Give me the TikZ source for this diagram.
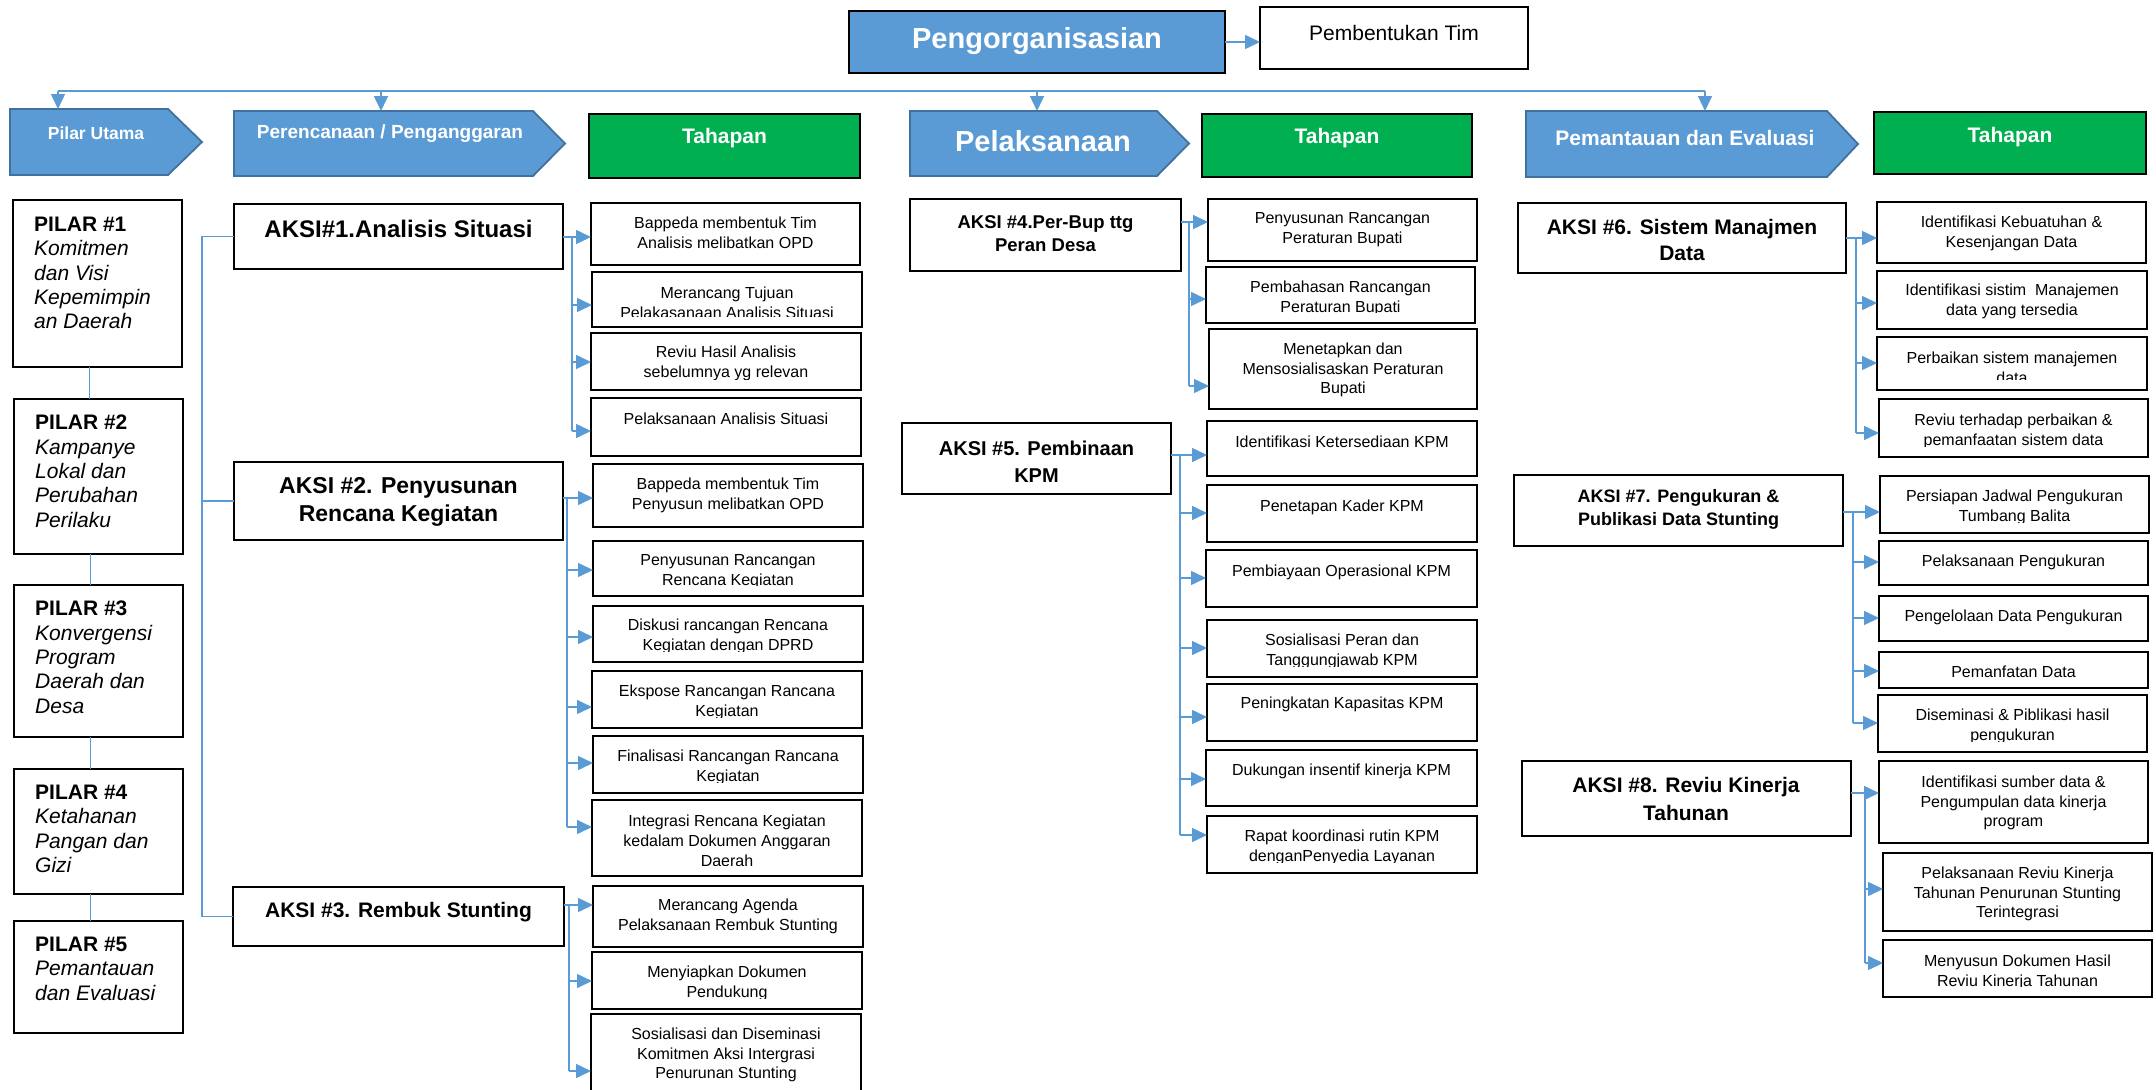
\documentclass[tikz,border=0pt]{standalone}
\usepackage{fontspec}
\setmainfont{Liberation Sans}
\usetikzlibrary{arrows.meta}
\definecolor{obl}{HTML}{5B9BD5}
\definecolor{obd}{HTML}{41719C}
\definecolor{ogr}{HTML}{00B050}
\tikzset{
  conn/.style={draw=obl, line width=1.5pt},
  arr/.style={draw=obl, line width=1.5pt, -{Triangle[length=15pt,width=14pt]}},
  stepbox/.style={draw=black, line width=2.5pt, fill=white, inner sep=0pt, outer sep=0pt},
  aksibox/.style={draw=black, line width=2.5pt, fill=white, inner sep=0pt, outer sep=0pt},
  pilarbox/.style={draw=black, line width=2.2pt, fill=white, inner sep=0pt, outer sep=0pt},
  hdrbox/.style={draw=none, inner sep=0pt, outer sep=0pt},
  tahbox/.style={draw=black, fill=ogr, line width=2.3pt, inner sep=0pt, outer sep=0pt},
  hdrtxt/.style={text=white, font=\bfseries\fontsize{#1}{#1}\selectfont, inner sep=0pt},
  st/.style={align=center, font=\fontsize{16}{19.8}\selectfont, inner sep=0pt},
  akt/.style={align=center, inner sep=0pt},
  pil/.style={align=left, anchor=north west, font=\fontsize{21}{24.3}\selectfont, inner sep=0pt},
}
\newcommand{\bxnode}[6]{\node[#6, minimum width={#4-#2}, minimum height={#5-#3}] (#1) at ({(#2+#4)/2},{(#3+#5)/2}) {};}
\newcommand{\stepnode}[9]{%
  \bxnode{#1}{#2}{#3}{#4}{#5}{stepbox}
  \coordinate (in#1) at (#2,#7);
  \begin{scope}
    \clip (#2,#3) rectangle (#4,{#5-10.5});
    \node[#8] (#1t) at ({(#2+#4)/2},#6) {#9};
  \end{scope}}
\newcommand{\hdrshape}[2]{\filldraw[fill=obl, draw=obd, line width=1.8pt, line join=miter] (#1.north west) -- ([xshift=-#2pt]#1.north east) -- (#1.east) -- ([xshift=-#2pt]#1.south east) -- (#1.south west) -- cycle;}
\begin{document}
\begin{tikzpicture}[x=1pt,y=-1pt]
\useasboundingbox (0,0) rectangle (2156,1090);
\fill[white] (0,0) rectangle (2156,1090);

% top
\bxnode{org}{849}{11}{1225}{73}{fill=obl, draw=black, line width=2.8pt, inner sep=0pt, outer sep=0pt}
\node[hdrtxt=29] (orgt) at (1037,41) {Pengorganisasian};
\bxnode{tim}{1260}{7}{1528}{69}{draw=black, line width=2.2pt, fill=white, inner sep=0pt, outer sep=0pt}
\node[font=\fontsize{21}{21}\selectfont, inner sep=0pt] (timt) at (1394,33) {Pembentukan Tim};
\draw[arr] (org.east) -- (org.east -| tim.west);

% headers
\bxnode{h1}{10}{109}{202}{175}{hdrbox}\hdrshape{h1}{34}
\node[hdrtxt=17.5] (h1t) at (96,133) {Pilar Utama};
\bxnode{h2}{234}{111}{565}{176}{hdrbox}\hdrshape{h2}{32}
\node[hdrtxt=19] (h2t) at (390,134) {Perencanaan / Penganggaran};
\bxnode{t1}{589}{114}{860}{178}{tahbox}
\node[hdrtxt=21] (t1t) at (724.5,138) {Tahapan};
\bxnode{h3}{910}{111}{1189}{176}{hdrbox}\hdrshape{h3}{32}
\node[hdrtxt=29] (h3t) at (1043,141) {Pelaksanaan};
\bxnode{t2}{1202}{114}{1472}{177}{tahbox}
\node[hdrtxt=21] (t2t) at (1337,138) {Tahapan};
\bxnode{h4}{1526}{111}{1858}{177}{hdrbox}\hdrshape{h4}{31}
\node[hdrtxt=21] (h4t) at (1685,138) {Pemantauan dan Evaluasi};
\bxnode{t3}{1874}{112}{2146}{174}{tahbox}
\node[hdrtxt=21] (t3t) at (2010,137) {Tahapan};

\coordinate (tl) at (58,91);
\coordinate (tr) at (1705,91);
\coordinate (d2) at (381,91);
\coordinate (d3) at (1037,91);
\draw[conn, line width=2pt] (tl) -- (tr);
\draw[arr] (tl) -- (tl |- h1.north);
\draw[arr] (d2) -- (d2 |- h2.north);
\draw[arr] (d3) -- (d3 |- h3.north);
\draw[arr] (tr) -- (tr |- h4.north);

% pilar
\bxnode{p1}{13}{200}{182}{367}{pilarbox}
\node[pil] (p1t) at (34,217) {\textbf{PILAR \#1}\\\textit{Komitmen}\\\textit{dan Visi}\\\textit{Kepemimpin}\\\textit{an Daerah}};
\bxnode{p2}{14}{399}{183}{554}{pilarbox}
\node[pil] (p2t) at (35,415) {\textbf{PILAR \#2}\\\textit{Kampanye}\\\textit{Lokal dan}\\\textit{Perubahan}\\\textit{Perilaku}};
\bxnode{p3}{14}{585}{183}{737}{pilarbox}
\node[pil] (p3t) at (35,601) {\textbf{PILAR \#3}\\\textit{Konvergensi}\\\textit{Program}\\\textit{Daerah dan}\\\textit{Desa}};
\bxnode{p4}{14}{769}{183}{894}{pilarbox}
\node[pil] (p4t) at (35,785) {\textbf{PILAR \#4}\\\textit{Ketahanan}\\\textit{Pangan dan}\\\textit{Gizi}};
\bxnode{p5}{14}{921}{183}{1033}{pilarbox}
\node[pil] (p5t) at (35,937) {\textbf{PILAR \#5}\\\textit{Pemantauan}\\\textit{dan Evaluasi}};
\draw[conn] ([xshift=-8pt]p1.south) -- ([xshift=-8pt]p1.south |- p2.north);
\draw[conn] ([xshift=-8pt]p2.south) -- ([xshift=-8pt]p2.south |- p3.north);
\draw[conn] ([xshift=-8pt]p3.south) -- ([xshift=-8pt]p3.south |- p4.north);
\draw[conn] ([xshift=-8pt]p4.south) -- ([xshift=-8pt]p4.south |- p5.north);

% aksi
\bxnode{a1}{234}{204}{563}{269}{aksibox}
\node[akt, font=\bfseries\fontsize{24}{28}\selectfont] (a1t) at (398.5,229) {AKSI\#1.Analisis Situasi};
\bxnode{a2}{234}{462}{563}{540}{aksibox}
\node[akt, font=\bfseries\fontsize{23}{28}\selectfont] (a2t) at (398.5,502) {AKSI \#2. Penyusunan\\Rencana Kegiatan};
\bxnode{a3}{233}{887}{564}{946}{aksibox}
\node[akt, font=\bfseries\fontsize{21}{26}\selectfont] (a3t) at (398.5,912) {AKSI \#3. Rembuk Stunting};
\bxnode{a4}{910}{199}{1181}{271}{aksibox}
\node[akt, font=\bfseries\fontsize{18.5}{23}\selectfont] (a4t) at (1045.5,234) {AKSI \#4.Per-Bup ttg\\Peran Desa};
\bxnode{a5}{902}{423}{1171}{494}{aksibox}
\node[akt, font=\bfseries\fontsize{20}{27}\selectfont] (a5t) at (1036.5,462) {AKSI \#5. Pembinaan\\KPM};
\bxnode{a6}{1518}{203}{1846}{273}{aksibox}
\node[akt, font=\bfseries\fontsize{21}{26.5}\selectfont] (a6t) at (1682,240) {AKSI \#6. Sistem Manajmen\\Data};
\bxnode{a7}{1514}{475}{1843}{546}{aksibox}
\node[akt, font=\bfseries\fontsize{18}{23}\selectfont] (a7t) at (1678.5,509) {AKSI \#7. Pengukuran \&\\Publikasi Data Stunting};
\bxnode{a8}{1522}{761}{1851}{836}{aksibox}
\node[akt, font=\bfseries\fontsize{21}{27.5}\selectfont] (a8t) at (1686,799) {AKSI \#8. Reviu Kinerja\\Tahunan};

\coordinate (lbus) at (202,0);
\draw[conn] (a1.west) -- (lbus |- a1.west) -- (lbus |- a3.west) -- (a3.west);
\draw[conn] (lbus |- a2.west) -- (a2.west);

% steps column 1
\stepnode{s1a}{591}{203}{860}{265}{233}{237}{st}{Bappeda membentuk Tim\\Analisis melibatkan OPD}
\stepnode{s1b}{592}{272}{862}{327}{303}{305}{st}{Merancang Tujuan\\Pelakasanaan Analisis Situasi}
\stepnode{s1c}{591}{333}{861}{390}{363}{362}{st}{Reviu Hasil Analisis\\sebelumnya yg relevan}
\stepnode{s1d}{591}{398}{861}{456}{419}{431}{st}{Pelaksanaan Analisis Situasi}
\stepnode{s2a}{593}{464}{863}{527}{495}{498}{st}{Bappeda membentuk Tim\\Penyusun melibatkan OPD}
\stepnode{s2b}{593}{541}{863}{596}{572}{570}{st}{Penyusunan Rancangan\\Rencana Kegiatan}
\stepnode{s2c}{593}{606}{863}{662}{636}{637}{st}{Diskusi rancangan Rencana\\Kegiatan dengan DPRD}
\stepnode{s2d}{592}{671}{862}{728}{702}{707}{st}{Ekspose Rancangan Rancana\\Kegiatan}
\stepnode{s2e}{593}{736}{863}{793}{767}{763}{st}{Finalisasi Rancangan Rancana\\Kegiatan}
\stepnode{s2f}{592}{800}{862}{876}{841}{827}{st}{Integrasi Rencana Kegiatan\\kedalam Dokumen Anggaran\\Daerah}
\stepnode{s3a}{593}{886}{863}{947}{916}{905}{st}{Merancang Agenda\\Pelaksanaan Rembuk Stunting}
\stepnode{s3b}{592}{952}{862}{1009}{983}{981}{st}{Menyiapkan Dokumen\\Pendukung}
\stepnode{s3c}{591}{1014}{861}{1096}{1055}{1071}{st}{Sosialisasi dan Diseminasi\\Komitmen Aksi Intergrasi\\Penurunan Stunting}

% steps column 2
\stepnode{s4a}{1208}{199}{1477}{261}{230}{222}{st}{Penyusunan Rancangan\\Peraturan Bupati}
\stepnode{s4b}{1206}{267}{1475}{323}{298}{299}{st}{Pembahasan Rancangan\\Peraturan Bupati}
\stepnode{s4c}{1209}{329}{1477}{409}{370}{386}{st}{Menetapkan dan\\Mensosialisaskan Peraturan\\Bupati}
\stepnode{s5a}{1207}{421}{1477}{476}{442}{455}{st}{Identifikasi Ketersediaan KPM}
\stepnode{s5b}{1207}{485}{1477}{542}{507}{513}{st}{Penetapan Kader KPM}
\stepnode{s5c}{1206}{550}{1477}{607}{572}{578}{st}{Pembiayaan Operasional KPM}
\stepnode{s5d}{1207}{620}{1477}{677}{651}{648}{st}{Sosialisasi Peran dan\\Tanggungjawab KPM}
\stepnode{s5e}{1207}{684}{1477}{741}{704}{717}{st}{Peningkatan Kapasitas KPM}
\stepnode{s5f}{1206}{750}{1477}{806}{771}{779}{st}{Dukungan insentif kinerja KPM}
\stepnode{s5g}{1207}{816}{1477}{873}{847}{835}{st}{Rapat koordinasi rutin KPM\\denganPenyedia Layanan}

% steps column 3
\stepnode{r6a}{1877}{202}{2146}{263}{233}{238}{st}{Identifikasi Kebuatuhan \&\\Kesenjangan Data}
\stepnode{r6b}{1877}{271}{2147}{329}{301}{303}{st}{Identifikasi sistim\ \ Manajemen\\data yang tersedia}
\stepnode{r6c}{1877}{337}{2147}{390}{368}{363}{st}{Perbaikan sistem manajemen\\data}
\stepnode{r6d}{1879}{399}{2148}{457}{431}{433}{st}{Reviu terhadap perbaikan \&\\pemanfaatan sistem data}
\stepnode{r7a}{1880}{476}{2149}{533}{507}{512}{st}{Persiapan Jadwal Pengukuran\\Tumbang Balita}
\stepnode{r7b}{1879}{541}{2148}{585}{562}{562}{st}{Pelaksanaan Pengukuran}
\stepnode{r7c}{1879}{596}{2148}{641}{617}{618}{st}{Pengelolaan Data Pengukuran}
\stepnode{r7d}{1879}{652}{2148}{688}{672}{671}{st}{Pemanfatan Data}
\stepnode{r7e}{1878}{695}{2147}{752}{726}{723}{st}{Diseminasi \& Piblikasi hasil\\pengukuran}
\stepnode{r8a}{1879}{761}{2148}{843}{803}{793}{st}{Identifikasi sumber data \&\\Pengumpulan data kinerja\\program}
\stepnode{r8b}{1883}{853}{2152}{931}{894}{889}{st}{Pelaksanaan Reviu Kinerja\\Tahunan Penurunan Stunting\\Terintegrasi}
\stepnode{r8c}{1883}{940}{2152}{997}{972}{963}{st}{Menyusun Dokumen Hasil\\Reviu Kinerja Tahunan}

% buses
\coordinate (b1) at (572,0);
\coordinate (b2) at (567,0);
\coordinate (b3) at (569,0);
\coordinate (b4) at (1189,0);
\coordinate (b5) at (1180,0);
\coordinate (b6) at (1856,0);
\coordinate (b7) at (1853,0);
\coordinate (b8) at (1865,0);

\draw[conn] (b1 |- ins1a) -- (b1 |- ins1d);
\draw[arr] (a1.east |- ins1a) -- (s1a.west |- ins1a);
\foreach \s in {s1b,s1c,s1d} {\draw[arr] (b1 |- in\s) -- (\s.west |- in\s);}

\draw[conn] (b2 |- ins2a) -- (b2 |- ins2f);
\draw[arr] (a2.east |- ins2a) -- (s2a.west |- ins2a);
\foreach \s in {s2b,s2c,s2d,s2e,s2f} {\draw[arr] (b2 |- in\s) -- (\s.west |- in\s);}

\draw[conn] (b3 |- ins3a) -- (b3 |- ins3c);
\draw[arr] (a3.east |- ins3a) -- (s3a.west |- ins3a);
\foreach \s in {s3b,s3c} {\draw[arr] (b3 |- in\s) -- (\s.west |- in\s);}

\draw[conn] (b4 |- ins4a) -- (b4 |- ins4c);
\draw[arr] (a4.east |- ins4a) -- (s4a.west |- ins4a);
\foreach \s in {s4b,s4c} {\draw[arr] (b4 |- in\s) -- (\s.west |- in\s);}

\draw[conn] (b5 |- ins5a) -- (b5 |- ins5g);
\draw[arr] (a5.east |- ins5a) -- (s5a.west |- ins5a);
\foreach \s in {s5b,s5c,s5d,s5e,s5f,s5g} {\draw[arr] (b5 |- in\s) -- (\s.west |- in\s);}

\draw[conn] (b6 |- inr6a) -- (b6 |- inr6d);
\draw[arr] (a6.east |- inr6a) -- (r6a.west |- inr6a);
\foreach \s in {r6b,r6c,r6d} {\draw[arr] (b6 |- in\s) -- (\s.west |- in\s);}

\draw[conn] (b7 |- inr7a) -- (b7 |- inr7e);
\draw[arr] (a7.east |- inr7a) -- (r7a.west |- inr7a);
\foreach \s in {r7b,r7c,r7d,r7e} {\draw[arr] (b7 |- in\s) -- (\s.west |- in\s);}

\draw[conn] (b8 |- inr8a) -- (b8 |- inr8c);
\draw[arr] (a8.east |- inr8a) -- (r8a.west |- inr8a);
\foreach \s in {r8b,r8c} {\draw[arr] (b8 |- in\s) -- (\s.west |- in\s);}
\end{tikzpicture}
\end{document}
